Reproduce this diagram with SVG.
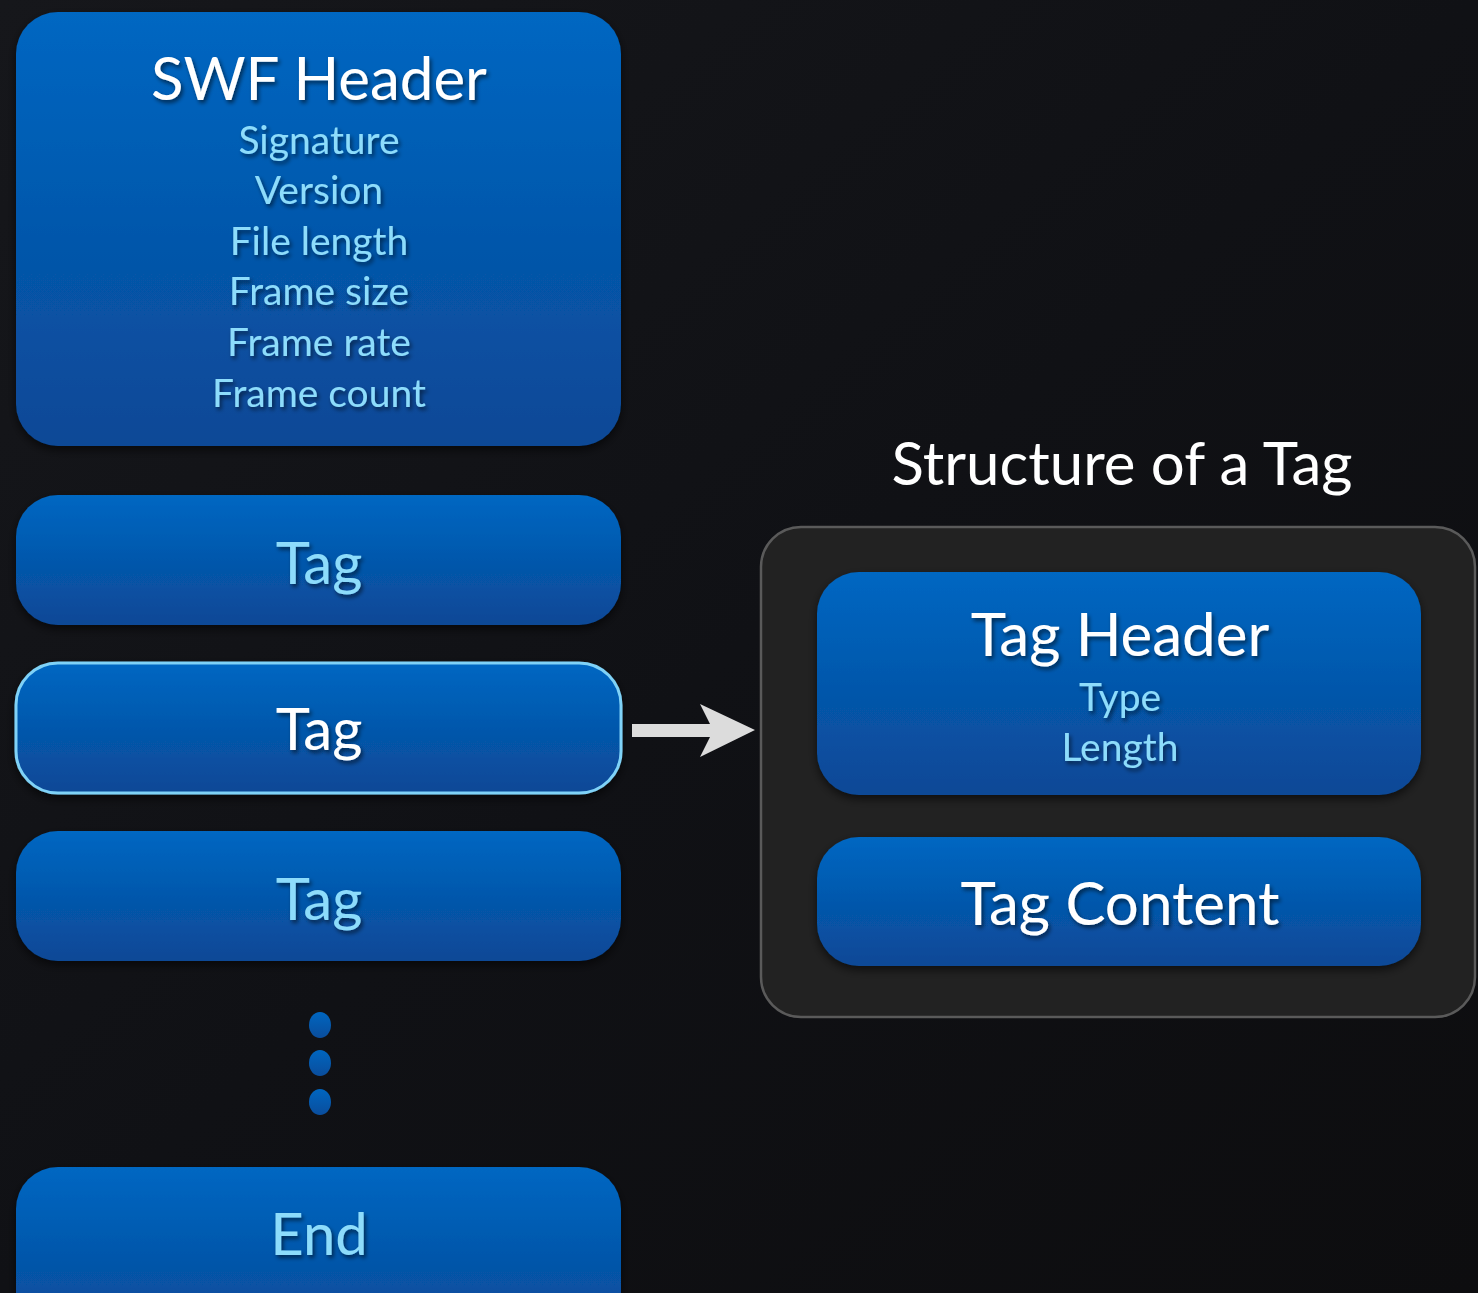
<svg xmlns="http://www.w3.org/2000/svg" width="1478" height="1293" viewBox="0 0 1478 1293">
  <defs>
    <linearGradient id="bg" x1="0" y1="0" x2="1" y2="1">
      <stop offset="0" stop-color="#16171b"/>
      <stop offset="0.5" stop-color="#101115"/>
      <stop offset="1" stop-color="#0d0d0f"/>
    </linearGradient>
    <linearGradient id="blue" x1="0" y1="0" x2="0" y2="1">
      <stop offset="0" stop-color="#0067c2"/>
      <stop offset="1" stop-color="#0a4896"/>
    </linearGradient>
    <linearGradient id="dotBlue" x1="0" y1="0" x2="0" y2="1">
      <stop offset="0" stop-color="#0066c0"/>
      <stop offset="1" stop-color="#0a4d9c"/>
    </linearGradient>
    <filter id="boxShadow" x="-10%" y="-10%" width="120%" height="130%">
      <feGaussianBlur in="SourceAlpha" stdDeviation="5"/>
      <feOffset dx="0" dy="4" result="b"/>
      <feComponentTransfer><feFuncA type="linear" slope="0.6"/></feComponentTransfer>
      <feMerge><feMergeNode/><feMergeNode in="SourceGraphic"/></feMerge>
    </filter>
    <filter id="textShadow" x="-10%" y="-20%" width="120%" height="150%">
      <feGaussianBlur in="SourceAlpha" stdDeviation="2"/>
      <feOffset dx="2" dy="3"/>
      <feComponentTransfer><feFuncA type="linear" slope="0.55"/></feComponentTransfer>
      <feMerge><feMergeNode/><feMergeNode in="SourceGraphic"/></feMerge>
    </filter>
  </defs>
  <style>
    text { font-family: Lato, "Liberation Sans", sans-serif; text-anchor: middle; }
    .box { fill: url(#blue); filter: url(#boxShadow); }
    .title { fill: #ffffff; font-size: 60px; filter: url(#textShadow); }
    .item { fill: #8ddcfb; font-size: 39px; filter: url(#textShadow); }
    .tag { fill: #8ddcfb; font-size: 58px; filter: url(#textShadow); }
    .tagSel { fill: #ffffff; font-size: 58px; filter: url(#textShadow); }
    .caption { fill: #ffffff; font-size: 60px; }
  </style>

  <rect width="1478" height="1293" fill="url(#bg)"/>

  <!-- file layout column -->
  <g id="swf-header">
    <rect class="box" x="16" y="12" width="605" height="434" rx="42"/>
    <text class="title" x="319" y="100">SWF Header</text>
    <text class="item" x="319" y="154">Signature</text>
    <text class="item" x="319" y="204">Version</text>
    <text class="item" x="319" y="255">File length</text>
    <text class="item" x="319" y="305">Frame size</text>
    <text class="item" x="319" y="356">Frame rate</text>
    <text class="item" x="319" y="407">Frame count</text>
  </g>

  <g id="tag-1">
    <rect class="box" x="16" y="495" width="605" height="130" rx="42"/>
    <text class="tag" x="319" y="584">Tag</text>
  </g>

  <g id="tag-2">
    <rect class="box" x="16" y="663" width="605" height="130" rx="42" stroke="#7fd2f7" stroke-width="3"/>
    <text class="tagSel" x="319" y="750">Tag</text>
  </g>

  <g id="tag-3">
    <rect class="box" x="16" y="831" width="605" height="130" rx="42"/>
    <text class="tag" x="319" y="920">Tag</text>
  </g>

  <g id="ellipsis">
    <ellipse cx="320" cy="1025" rx="11" ry="13" fill="url(#dotBlue)"/>
    <ellipse cx="320" cy="1063" rx="11" ry="13" fill="url(#dotBlue)"/>
    <ellipse cx="320" cy="1102" rx="11" ry="13" fill="url(#dotBlue)"/>
  </g>

  <g id="end">
    <rect class="box" x="16" y="1167" width="605" height="170" rx="42"/>
    <text class="tag" x="319" y="1255">End</text>
  </g>

  <!-- tag structure panel -->
  <text class="caption" x="1122" y="485">Structure of a Tag</text>
  <g id="tag-structure">
    <rect x="761" y="527" width="714" height="490" rx="40" fill="#222222" stroke="#5a5a5a" stroke-width="2.5"/>
  </g>

  <g id="tag-header">
    <rect class="box" x="817" y="572" width="604" height="223" rx="42"/>
    <text class="title" x="1120" y="656">Tag Header</text>
    <text class="item" x="1120" y="711">Type</text>
    <text class="item" x="1120" y="761">Length</text>
  </g>

  <g id="tag-content">
    <rect class="box" x="817" y="837" width="604" height="129" rx="42"/>
    <text class="title" x="1120" y="925">Tag Content</text>
  </g>

  <g id="connectors">
    <polygon points="632,724 710,724 700,704 755,730 700,757 710,737 632,737" fill="#dcdcdc"/>
  </g>
</svg>
